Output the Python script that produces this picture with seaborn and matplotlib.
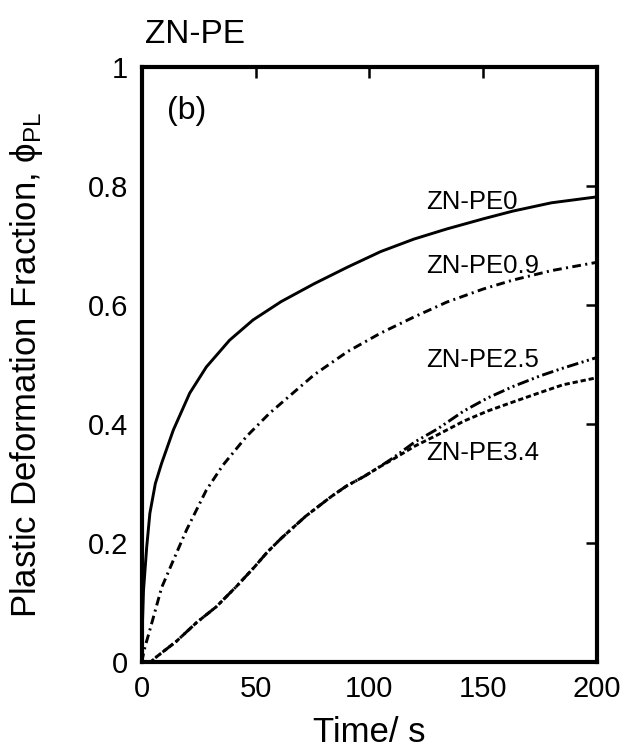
import matplotlib
matplotlib.use("Agg")
import matplotlib.pyplot as plt
import seaborn as sns
import pandas as pd

# Plastic deformation fraction vs time for ZN-PE samples
t_pe0 = [0, 0.3, 0.8, 2.2, 3.6, 6, 8.75, 13.9, 21.1, 28.4, 38.6, 48.9, 61.3,
         75.8, 90.5, 105, 119.6, 134, 150, 163, 180, 200]
phi_pe0 = [0, 0.06, 0.12, 0.193, 0.25, 0.30, 0.334, 0.39, 0.452, 0.496, 0.541,
           0.575, 0.606, 0.636, 0.664, 0.690, 0.711, 0.728, 0.745, 0.758,
           0.772, 0.782]

t_pe09 = [0, 1.5, 3.6, 8.75, 13.9, 19.7, 28.4, 35.7, 46, 56.1, 66.4, 75.8,
          90.5, 105, 119.6, 134, 150, 163, 180, 200]
phi_pe09 = [0, 0.026, 0.054, 0.125, 0.171, 0.222, 0.289, 0.331, 0.379, 0.418,
            0.452, 0.483, 0.522, 0.553, 0.580, 0.605, 0.627, 0.642, 0.658, 0.672]

t_pe25 = [0, 4, 6.6, 15.3, 24, 32.8, 41.6, 49.6, 55, 61.3, 72, 83.2, 90,
          97.7, 103.6, 110, 120, 130, 141.5, 152, 163, 175, 185, 200]
phi_pe25 = [0, 0, 0.009, 0.035, 0.066, 0.093, 0.127, 0.160, 0.184, 0.208,
            0.245, 0.278, 0.296, 0.312, 0.326, 0.342, 0.370, 0.392, 0.422,
            0.444, 0.463, 0.481, 0.494, 0.512]

t_pe34 = [0, 4, 6.6, 15.3, 24, 32.8, 41.6, 49.6, 55, 61.3, 72, 83.2, 90,
          97.7, 103.6, 110, 120, 130, 141.5, 152, 163, 175, 185, 200]
phi_pe34 = [0, 0, 0.009, 0.035, 0.066, 0.093, 0.127, 0.160, 0.184, 0.208,
            0.245, 0.278, 0.296, 0.312, 0.326, 0.340, 0.363, 0.382, 0.405,
            0.422, 0.437, 0.453, 0.466, 0.478]

samples = ["ZN-PE0", "ZN-PE0.9", "ZN-PE2.5", "ZN-PE3.4"]
label_phi = [0.774, 0.666, 0.508, 0.351]
label_t = 125

frames = []
for name, t, p in zip(samples,
                      [t_pe0, t_pe09, t_pe25, t_pe34],
                      [phi_pe0, phi_pe09, phi_pe25, phi_pe34]):
    frames.append(pd.DataFrame({"time": t, "phi": p, "sample": name}))
df = pd.concat(frames, ignore_index=True)

sns.set_theme(style="white")
plt.rcParams["font.family"] = ["Liberation Sans", "DejaVu Sans"]
plt.rcParams["mathtext.fontset"] = "custom"
plt.rcParams["mathtext.rm"] = "Liberation Sans"
plt.rcParams["mathtext.it"] = "Liberation Sans:italic"
for key in ["text.color", "axes.labelcolor", "xtick.color", "ytick.color",
            "axes.edgecolor"]:
    plt.rcParams[key] = "black"

fig = plt.figure(figsize=(6.28, 7.53), dpi=100)
ax = fig.add_axes([0.2256, 0.1208, 0.725, 0.790])

dash_styles = {
    "ZN-PE0": "",
    "ZN-PE0.9": (3.0, 1.5, 0.7, 1.5),
    "ZN-PE2.5": (4.0, 1.2, 0.7, 1.2, 0.7, 1.2),
    "ZN-PE3.4": (1.8, 1.0),
}
sns.lineplot(data=df, x="time", y="phi", style="sample", style_order=samples,
             dashes=dash_styles, color="black", linewidth=2.1, sort=False,
             estimator=None, legend=False, ax=ax)

for name, yv in zip(samples, label_phi):
    ax.text(label_t, yv, name, fontsize=18.5, ha="left", va="center")

ax.text(11, 0.926, "(b)", fontsize=23, ha="left", va="center")

ax.set_xlim(0, 200)
ax.set_ylim(0, 1)
ax.set_xticks([0, 50, 100, 150, 200])
ax.set_xticklabels(["0", "50", "100", "150", "200"])
ax.set_yticks([0, 0.2, 0.4, 0.6, 0.8, 1.0])
ax.set_yticklabels(["0", "0.2", "0.4", "0.6", "0.8", "1"])

for s in ax.spines.values():
    s.set_linewidth(3.0)
    s.set_color("black")
ax.tick_params(axis="both", which="major", direction="in", length=8,
               width=1.8, top=True, right=True, labelsize=21)
ax.tick_params(axis="x", pad=9)
ax.tick_params(axis="y", pad=10)

ax.set_xlabel("Time/ s", fontsize=25)
ax.xaxis.set_label_coords(0.5, -0.09)
ax.set_ylabel("Plastic Deformation Fraction, ϕ$_{\\mathrm{PL}}$", fontsize=25)
ax.yaxis.set_label_coords(-0.213, 0.5)

fig.text(0.231, 0.943, "ZN-PE", fontsize=24, ha="left", va="baseline")

fig.savefig("out.png", dpi=100)
